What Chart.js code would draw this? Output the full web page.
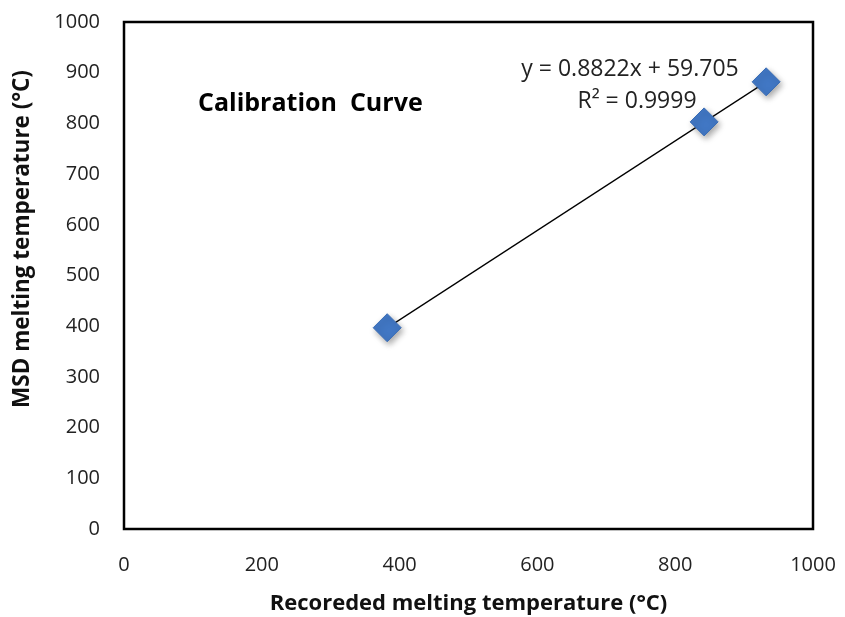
<!DOCTYPE html>
<html>
<head>
<meta charset="utf-8">
<title>Calibration Curve</title>
<script src="https://cdn.jsdelivr.net/npm/chart.js"></script>
<style>
  html, body { margin: 0; padding: 0; background: #fff; }
  #wrap { width: 845px; height: 617px; }
</style>
</head>
<body>
<div id="wrap"><canvas id="chart" width="845" height="617"></canvas></div>
<script>
// values
const recorded = [382, 842, 932];
const msd = [397, 803, 882];
// trendline end points (first and last x)
const trendX = [382, 932];
const trendY = [396.7, 881.9];
const xTicks = [0, 200, 400, 600, 800, 1000];
const yTicks = [0, 100, 200, 300, 400, 500, 600, 700, 800, 900, 1000];
const fitLabel = 'y = 0.8822x + 59.705';
const r2Label = 'R\u00b2 = 0.9999';
const yTitle = 'MSD melting temperature (\u00b0C)';

const FONT = "'Open Sans', 'Noto Sans', sans-serif";

const framePlugin = {
  id: 'frame',
  beforeDatasetDraw(chart, args) {
    if (args.index === 1) {
      const ctx = chart.ctx;
      ctx.save();
      ctx.shadowColor = 'rgba(0,0,0,0.35)';
      ctx.shadowBlur = 6;
      ctx.shadowOffsetX = 2;
      ctx.shadowOffsetY = 3;
    }
  },
  afterDatasetDraw(chart, args) {
    if (args.index === 1) chart.ctx.restore();
  },
  afterDraw(chart) {
    const { ctx, chartArea: a } = chart;
    ctx.save();
    ctx.strokeStyle = '#000';
    ctx.lineWidth = 2.5;
    ctx.strokeRect(a.left, a.top, a.right - a.left, a.bottom - a.top);
    ctx.fillStyle = '#000';
    ctx.textBaseline = 'middle';
    ctx.font = 'bold 25px ' + FONT;
    ctx.textAlign = 'left';
    ctx.fillText('Calibration  Curve', 198, 104);
    ctx.fillStyle = '#222';
    ctx.font = '23px ' + FONT;
    ctx.textAlign = 'center';
    ctx.fillText(fitLabel, 630, 69);
    ctx.fillText(r2Label, 637, 101);
    // y axis title, placed a bit above the middle as in the original
    ctx.fillStyle = '#111';
    ctx.font = 'bold 22.5px ' + FONT;
    ctx.translate(23, 239);
    ctx.rotate(-Math.PI / 2);
    ctx.fillText(yTitle, 0, 0);
    ctx.restore();
  }
};

new Chart(document.getElementById('chart'), {
  type: 'scatter',
  data: {
    datasets: [
      {
        label: 'Linear fit',
        data: trendX.map((x, i) => ({ x, y: trendY[i] })),
        showLine: true,
        borderColor: '#000',
        borderWidth: 1.2,
        pointRadius: 0,
        order: 2
      },
      {
        label: 'Calibration',
        data: recorded.map((x, i) => ({ x, y: msd[i] })),
        pointStyle: 'rectRot',
        pointRadius: 14,
        pointHoverRadius: 14,
        backgroundColor: '#4177c4',
        borderColor: '#3a6db5',
        borderWidth: 1,
        order: 1
      }
    ]
  },
  options: {
    responsive: false,
    animation: false,
    layout: { padding: { top: 22, right: 32, left: 0, bottom: 0 } },
    plugins: { legend: { display: false }, tooltip: { enabled: false } },
    scales: {
      x: {
        type: 'linear',
        min: 0, max: 1000,
        afterBuildTicks(s) { s.ticks = xTicks.map(v => ({ value: v })); },
        afterFit(s) { s.height = 88; s.paddingLeft = 0; s.paddingRight = 0; },
        grid: { display: false, drawTicks: false },
        border: { display: false },
        ticks: { color: '#222', padding: 24, font: { family: FONT, size: 20 }, callback: v => String(v) },
        title: {
          display: true,
          text: 'Recoreded melting temperature (\u00b0C)',
          color: '#111',
          font: { family: FONT, size: 22, weight: 'bold' },
          padding: { top: 0, bottom: 0 }
        }
      },
      y: {
        type: 'linear',
        min: 0, max: 1000,
        afterBuildTicks(s) { s.ticks = yTicks.map(v => ({ value: v })); },
        afterFit(s) { s.width = 124; s.paddingTop = 0; s.paddingBottom = 0; },
        grid: { display: false, drawTicks: false },
        border: { display: false },
        ticks: { color: '#222', padding: 24, font: { family: FONT, size: 20 }, callback: v => String(v) },
        title: { display: false }
      }
    }
  },
  plugins: [framePlugin]
});
</script>
</body>
</html>
